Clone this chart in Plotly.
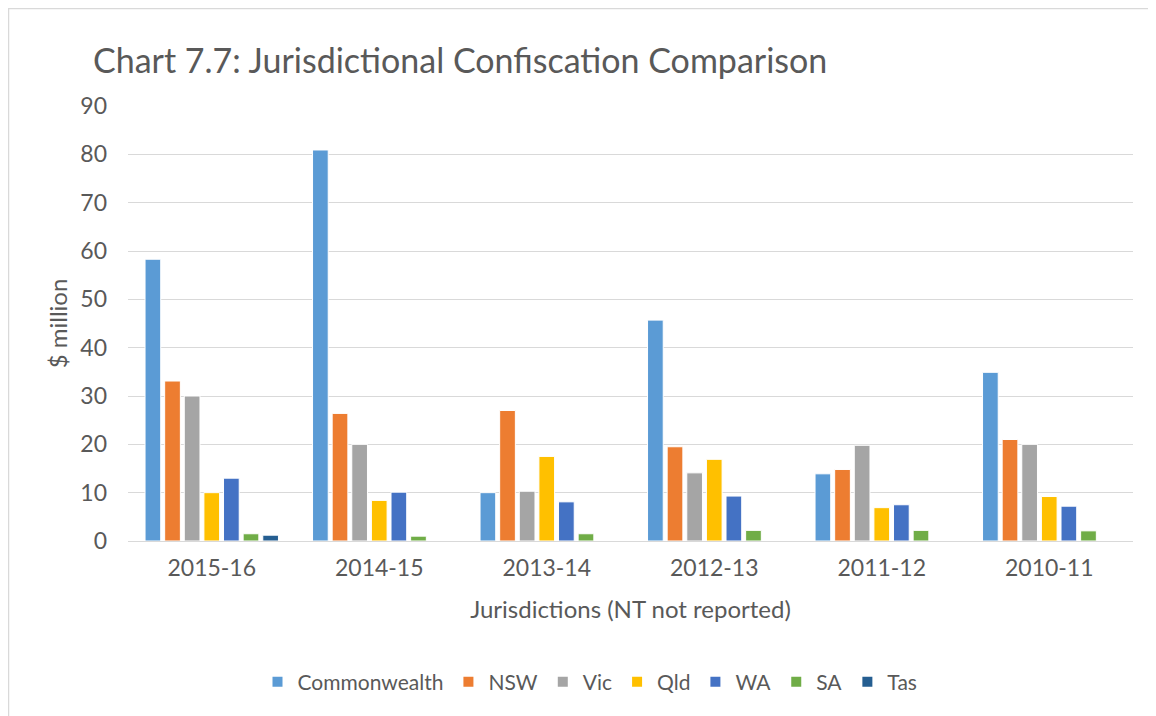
import plotly.graph_objects as go

categories = ["2015-16", "2014-15", "2013-14", "2012-13", "2011-12", "2010-11"]
commonwealth = [58.3, 80.9, 10.0, 45.7, 13.9, 34.9]
nsw = [33.1, 26.4, 27.0, 19.5, 14.8, 21.0]
vic = [30.0, 20.0, 10.3, 14.1, 19.8, 20.0]
qld = [10.0, 8.4, 17.5, 16.9, 6.9, 9.2]
wa = [13.0, 10.1, 8.1, 9.3, 7.5, 7.2]
sa = [1.5, 1.0, 1.5, 2.2, 2.2, 2.1]
tas = [1.2, None, None, None, None, None]

series = [
    ("Commonwealth", commonwealth, "#5B9BD5"),
    ("NSW", nsw, "#ED7D31"),
    ("Vic", vic, "#A5A5A5"),
    ("Qld", qld, "#FFC000"),
    ("WA", wa, "#4472C4"),
    ("SA", sa, "#70AD47"),
    ("Tas", tas, "#255E91"),
]

# page has an 8px body margin; work in figure coordinates
OFF = 8
W, H = 1156 - OFF, 716 - OFF
L, R, T, B = 128 - OFF, 1133 - OFF, 106 - OFF, 541 - OFF

fig = go.Figure()
for name, vals, color in series:
    fig.add_trace(go.Bar(
        x=categories, y=vals, name=name,
        marker=dict(color=color, line=dict(color="white", width=1)),
    ))

FONT = "Lato, 'Open Sans', sans-serif"
GREY = "#595959"

def px(xp):
    return (xp - OFF - L) / (R - L)

def py(yp):
    return (B - (yp - OFF)) / (B - T)

fig.update_layout(
    width=W, height=H,
    margin=dict(l=L, r=W - R, t=T, b=H - B, pad=0, autoexpand=False),
    paper_bgcolor="white", plot_bgcolor="white",
    barmode="group", bargap=0.18, bargroupgap=0.2,
    font=dict(family=FONT, color=GREY, size=23),
    title=dict(text="Chart 7.7: Jurisdictional Confiscation Comparison",
               x=(93 - OFF) / W, xanchor="left", y=1 - (61 - OFF) / H, yanchor="middle",
               font=dict(size=34, color=GREY, family=FONT)),
    xaxis=dict(
        type="category", automargin=False,
        showgrid=False, showline=True, linecolor="#D9D9D9", linewidth=1,
        ticks="", tickfont=dict(size=23, color=GREY), ticklabelstandoff=6,
        title=dict(text="Jurisdictions (NT not reported)", font=dict(size=24, color=GREY), standoff=21),
    ),
    yaxis=dict(
        range=[0, 90], dtick=10, showgrid=True, gridcolor="#D9D9D9", gridwidth=1,
        zeroline=False, showline=False, ticks="", tickfont=dict(size=23, color=GREY),
        ticklabelstandoff=20, automargin=False,
        title=dict(text="$ million", font=dict(size=24, color=GREY), standoff=5),
    ),
    legend=dict(orientation="h", x=px(590), xanchor="center", y=py(682), yanchor="middle",
                font=dict(size=21, color=GREY), itemwidth=30, traceorder="normal",
                itemsizing="constant"),
    showlegend=True,
)

fig.add_shape(type="rect", xref="paper", yref="paper",
              x0=(0.5 - L) / (R - L), x1=px(1190), y0=py(760), y1=(B - 0.5) / (B - T),
              line=dict(color="#D9D9D9", width=1.5), fillcolor="rgba(0,0,0,0)", layer="below")

fig.write_html("out.html")
